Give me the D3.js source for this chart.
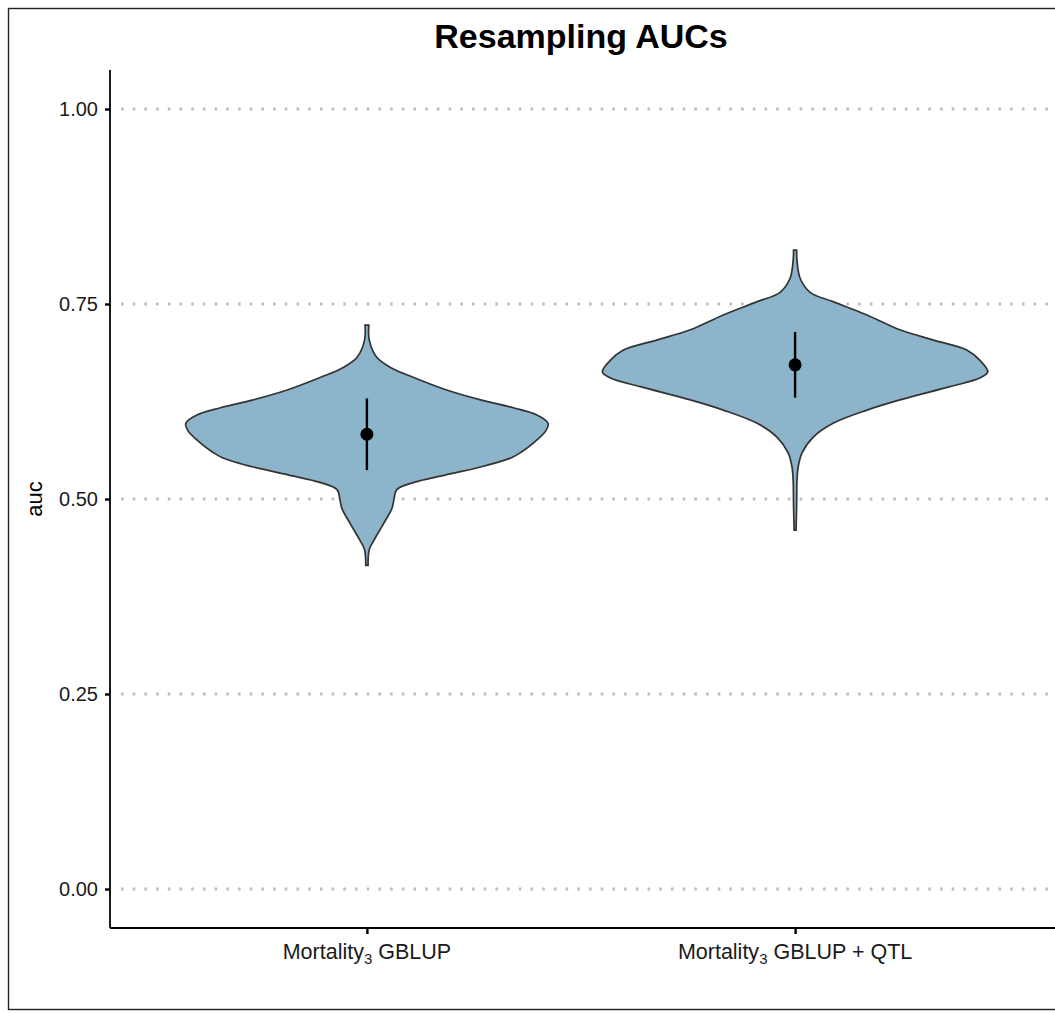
<!DOCTYPE html>
<html>
<head>
<meta charset="utf-8">
<script src="https://cdn.jsdelivr.net/npm/d3@7"></script>
<style>
body { margin: 0; background: #fff; }
svg { display: block; font-family: "Liberation Sans", Arial, Helvetica, sans-serif; }
</style>
</head>
<body>
<svg id="chart" width="1055" height="1013"></svg>
<script>
// categories and tick labels
var categories = ["g1", "g2"];
var categoryLabels = [["Mortality", "3", " GBLUP"], ["Mortality", "3", " GBLUP + QTL"]];
var yTicks = [0, 0.25, 0.5, 0.75, 1.0];

// violin outlines: auc value and relative density (1 = widest)
var aucGBLUP = [0.723, 0.704, 0.682, 0.669, 0.656, 0.640, 0.627, 0.617, 0.608, 0.597, 0.588, 0.572, 0.560, 0.553, 0.541, 0.531, 0.521, 0.512, 0.499, 0.488, 0.469, 0.447, 0.435, 0.415];
var densGBLUP = [0.010, 0.012, 0.050, 0.120, 0.240, 0.410, 0.590, 0.760, 0.880, 0.940, 0.930, 0.865, 0.800, 0.750, 0.590, 0.410, 0.240, 0.155, 0.140, 0.130, 0.088, 0.036, 0.012, 0.006];

var aucQTL = [0.819, 0.806, 0.783, 0.765, 0.753, 0.736, 0.717, 0.704, 0.691, 0.678, 0.663, 0.655, 0.644, 0.627, 0.614, 0.597, 0.579, 0.559, 0.541, 0.524, 0.492, 0.460];
var densQTL = [0.008, 0.010, 0.026, 0.078, 0.197, 0.373, 0.544, 0.715, 0.891, 0.958, 1.000, 0.958, 0.803, 0.544, 0.373, 0.197, 0.093, 0.036, 0.016, 0.010, 0.008, 0.005];

// mean point and interval
var meanAuc = [0.583, 0.672];
var lowAuc = [0.537, 0.630];
var highAuc = [0.629, 0.714];

var svg = d3.select("#chart");
var padL = 110, padR = 1052, padT = 70, padB = 928;

var x = d3.scalePoint().domain(categories).range([padL, padR]).padding(0.6);
var y = d3.scaleLinear().domain([-0.05, 1.05]).range([padB, padT]);
var halfW = x.step() * 0.45;
var w = d3.scaleLinear().domain([0, 1]).range([0, halfW]);

//outer frame
svg.append("rect")
	.attr("x", 8.5).attr("y", 8.5)
	.attr("width", 1070).attr("height", 1001)
	.attr("fill", "none").attr("stroke", "#222").attr("stroke-width", 1.4);

//dotted grid lines
svg.append("g").selectAll("line")
	.data(yTicks).enter().append("line")
	.attr("x1", padL + 11).attr("x2", padR)
	.attr("y1", function(d){ return y(d); })
	.attr("y2", function(d){ return y(d); })
	.attr("stroke", "#bdbdbd")
	.attr("stroke-width", 2.8)
	.attr("stroke-dasharray", "2.6,9.1");

//violins
var groups = [
	{cat: "g1", auc: aucGBLUP, dens: densGBLUP},
	{cat: "g2", auc: aucQTL, dens: densQTL}
];
groups.forEach(function(g){
	var cx = x(g.cat);
	var pts = g.auc.map(function(a, i){ return {auc: a, d: g.dens[i]}; });
	var area = d3.area()
		.y(function(d){ return y(d.auc); })
		.x0(function(d){ return cx - w(d.d); })
		.x1(function(d){ return cx + w(d.d); })
		.curve(d3.curveCatmullRom.alpha(0.5));
	svg.append("path")
		.attr("d", area(pts))
		.attr("fill", "#8cb5cc")
		.attr("stroke", "#333")
		.attr("stroke-width", 1.7);
});

//mean and interval
categories.forEach(function(c, i){
	svg.append("line")
		.attr("x1", x(c)).attr("x2", x(c))
		.attr("y1", y(lowAuc[i])).attr("y2", y(highAuc[i]))
		.attr("stroke", "#000").attr("stroke-width", 2.4);
	svg.append("circle")
		.attr("cx", x(c)).attr("cy", y(meanAuc[i]))
		.attr("r", 6.5).attr("fill", "#000");
});

//y axis
var yAxis = svg.append("g")
	.attr("transform", "translate(" + padL + ",0)")
	.call(d3.axisLeft(y).tickValues(yTicks).tickFormat(d3.format(".2f")).tickSize(5).tickPadding(7));
yAxis.select(".domain").attr("d", "M0," + padT + "V" + padB).attr("stroke-width", 1.8);
yAxis.selectAll(".tick line").attr("stroke-width", 2.4);
yAxis.selectAll(".tick text").style("font-size", "20px").attr("fill", "#1a1a1a");

//x axis
var xAxis = svg.append("g")
	.attr("transform", "translate(0," + padB + ")")
	.call(d3.axisBottom(x).tickSize(6).tickFormat(""));
xAxis.select(".domain").attr("d", "M" + padL + ",0H1055").attr("stroke-width", 1.8);
xAxis.selectAll(".tick line").attr("stroke-width", 2.4);

categories.forEach(function(c, i){
	var t = svg.append("text")
		.attr("x", x(c)).attr("y", 959)
		.attr("text-anchor", "middle")
		.style("font-size", "21.5px")
		.attr("fill", "#1a1a1a");
	t.append("tspan").text(categoryLabels[i][0]);
	t.append("tspan").attr("dy", 5).style("font-size", "15px").text(categoryLabels[i][1]);
	t.append("tspan").attr("dy", -5).text(categoryLabels[i][2]);
});

//axis title
svg.append("text")
	.attr("transform", "translate(42," + y(0.5) + ") rotate(-90)")
	.attr("text-anchor", "middle")
	.style("font-size", "22px")
	.attr("fill", "#000")
	.text("auc");

//chart title
svg.append("text")
	.attr("x", (padL + padR) / 2).attr("y", 48)
	.attr("text-anchor", "middle")
	.style("font-size", "34px")
	.style("font-weight", "bold")
	.text("Resampling AUCs");
</script>
</body>
</html>
